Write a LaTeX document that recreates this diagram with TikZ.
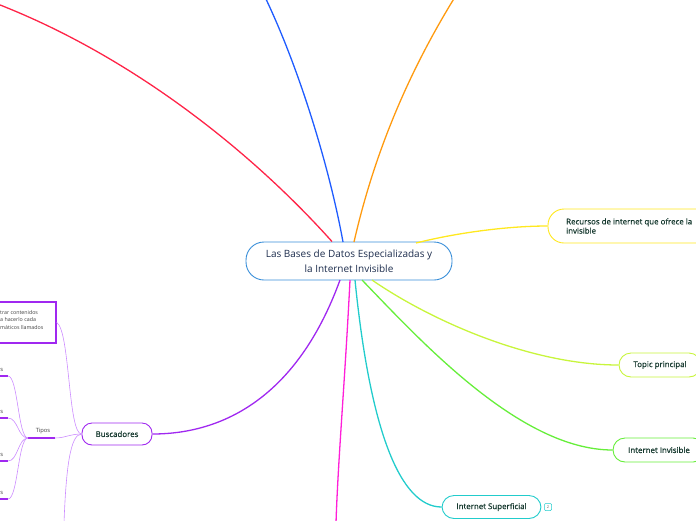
\documentclass[tikz,border=0pt]{standalone}
\usepackage{fontspec}
\setmainfont{Open Sans}
\newfontfamily\semibfont{Open Sans}[FakeBold=0.7]
\definecolor{cred}{HTML}{FF2448}
\definecolor{cblue}{HTML}{1F5CFF}
\definecolor{corange}{HTML}{FF9A0F}
\definecolor{cyellow}{HTML}{FFE81F}
\definecolor{clime}{HTML}{C8F53C}
\definecolor{cgreen}{HTML}{66EE3A}
\definecolor{ccyan}{HTML}{22CCCC}
\definecolor{cmag}{HTML}{FF1FD8}
\definecolor{cpurple}{HTML}{A028F0}
\definecolor{clpurple}{HTML}{CC8CFF}
\definecolor{ccenter}{HTML}{3A8FD9}
\definecolor{ctext}{HTML}{16392F}
\definecolor{cctext}{HTML}{1E2E4E}
\begin{document}
\begin{tikzpicture}[x=1pt,y=-1pt,
  branch/.style={line width=1.3pt},
  sub/.style={draw=clpurple,line width=0.6pt},
  topbox/.style={draw,line width=0.9pt,rounded corners=12pt,fill=white,inner sep=0pt},
  lbl/.style={text=ctext,font=\semibfont\fontsize{7.9}{9.2}\selectfont,inner sep=0pt},
  tiny/.style={text=black!75,font=\fontsize{5.8}{6.8}\selectfont,inner sep=0pt},
  uline/.style={draw=cpurple,line width=1.3pt}]
\useasboundingbox (0,0) rectangle (696,520);
\clip (0,0) rectangle (696,520);

% central topic
\node[draw=ccenter,line width=0.9pt,rounded corners=18pt,fill=white,
      minimum width=206pt,minimum height=38pt,align=center,
      text=cctext,font=\fontsize{10}{14.5}\selectfont] (c) at (349,261)
      {Las Bases de Datos Especializadas y\\la Internet Invisible};

% off-page ends
\coordinate (redend) at (-5,3);
\coordinate (blueend) at (265,-3);
\coordinate (orend) at (455,-3);
\coordinate (magend) at (336,523);

% boxes
\node[topbox,draw=cyellow,rounded corners=16pt,minimum width=172pt,minimum height=34pt] (rec) at (634,226) {};
\node[lbl,anchor=west,align=left] (rect) at (566,226) {Recursos de internet que ofrece la\\invisible};
\node[topbox,draw=clime,minimum width=82pt,minimum height=24pt,lbl] (top) at (660,365) {Topic principal};
\node[topbox,draw=cgreen,minimum width=92pt,minimum height=24pt,lbl] (inv) at (659,450) {Internet Invisible};
\node[topbox,draw=ccyan,minimum width=99pt,minimum height=23pt,lbl] (sup) at (491.5,507) {Internet Superficial};
\node[draw=ccyan,line width=0.5pt,rounded corners=1pt,minimum size=7pt,inner sep=0pt,
      text=black!60,font=\fontsize{4}{4}\selectfont] (badge) at (548,507) {2};
\node[topbox,draw=cpurple,rounded corners=10pt,minimum width=70pt,minimum height=22pt,lbl] (bus) at (117,434) {Buscadores};

% main branches
\draw[branch,cred] (c.north) ++(-17,0) coordinate (r0) .. controls (250,150) and (130,55) .. (redend);
\draw[branch,cblue] (343,242) coordinate (b0) .. controls (330,170) and (300,70) .. (blueend);
\draw[branch,corange] (354,242) coordinate (o0) .. controls (375,150) and (410,70) .. (orend);
\draw[branch,cyellow] (416,243) coordinate (y0) .. controls (460,232) and (510,226) .. (rec.west);
\draw[branch,clime] (372,280) coordinate (l0) .. controls (430,320) and (530,365) .. (top.west);
\draw[branch,cgreen] (362,280) coordinate (g0) .. controls (420,340) and (520,450) .. (inv.west);
\draw[branch,ccyan] (355,280) coordinate (cy0) .. controls (370,430) and (400,507) .. (sup.west);
\draw[branch,cmag] (350,280) coordinate (m0) .. controls (345,380) and (338,460) .. (magend);
\draw[branch,cpurple] (340,280) coordinate (p0) .. controls (300,390) and (230,434) .. (bus.east);

% Buscadores sub-branches
\node[draw=cpurple,line width=1.3pt,minimum width=62pt,minimum height=41pt,inner sep=0pt] (desc) at (25,322.5) {};
\node[tiny,anchor=west,align=left,font=\fontsize{5.3}{7.5}\selectfont] (desct) at (0,320)
   {trar contenidos\\a hacerlo cada\\máticos llamados};
\coordinate (tipR) at (55,438);
\coordinate (tipL) at (28,438);
\draw[uline] (tipL) -- (tipR);
\node[tiny,anchor=south] (tipos) at (43,434) {Tipos};
\coordinate (busdown) at (64,523);
\draw[sub] (bus.west) .. controls (68,434) and (70,330) .. (desc.east);
\draw[sub] (bus.west) .. controls (70,434) and (65,438) .. (tipR);
\draw[sub] (bus.west) .. controls (70,434) and (66,470) .. (busdown);

\foreach \yy/\nm in {376/a,418/b,461/c,499/d}{
  \coordinate (leaf\nm) at (8,\yy);
  \draw[uline] (-2,\yy) -- (leaf\nm);
  \node[tiny,anchor=south west] (lt\nm) at (0.3,\yy-4) {s};
  \draw[sub] (tipL) .. controls (18,438) and (18,\yy) .. (leaf\nm);
}
\end{tikzpicture}
\end{document}
